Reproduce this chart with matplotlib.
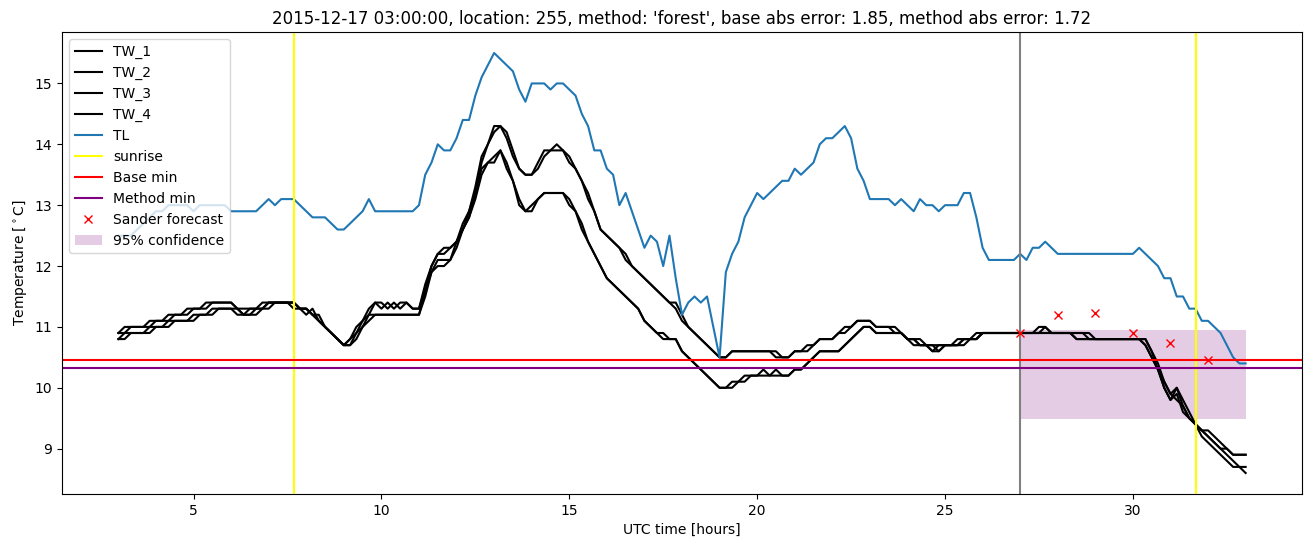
import numpy as np
import matplotlib
matplotlib.use("Agg")
import matplotlib.pyplot as plt

# 10-minute readings from 03:00 to 33:00 UTC (one row per hour)
tl = [
    12.5, 12.5, 12.5, 12.6, 12.7, 12.8,
    12.9, 12.9, 13.0, 13.0, 13.0, 13.0,
    12.9, 13.0, 13.0, 13.0, 13.0, 13.0,
    12.9, 12.9, 12.9, 12.9, 12.9, 13.0,
    13.1, 13.0, 13.1, 13.1, 13.1, 13.0,
    12.9, 12.8, 12.8, 12.8, 12.7, 12.6,
    12.6, 12.7, 12.8, 12.9, 13.1, 12.9,
    12.9, 12.9, 12.9, 12.9, 12.9, 12.9,
    13.0, 13.5, 13.7, 14.0, 13.9, 13.9,
    14.1, 14.4, 14.4, 14.8, 15.1, 15.3,
    15.5, 15.4, 15.3, 15.2, 14.9, 14.7,
    15.0, 15.0, 15.0, 14.9, 15.0, 15.0,
    14.9, 14.8, 14.5, 14.3, 13.9, 13.9,
    13.6, 13.5, 13.0, 13.2, 12.9, 12.6,
    12.3, 12.5, 12.4, 12.0, 12.5, 11.8,
    11.2, 11.4, 11.5, 11.4, 11.5, 11.0,
    10.5, 11.9, 12.2, 12.4, 12.8, 13.0,
    13.2, 13.1, 13.2, 13.3, 13.4, 13.4,
    13.6, 13.5, 13.6, 13.7, 14.0, 14.1,
    14.1, 14.2, 14.3, 14.1, 13.6, 13.4,
    13.1, 13.1, 13.1, 13.1, 13.0, 13.1,
    13.0, 12.9, 13.1, 13.0, 13.0, 12.9,
    13.0, 13.0, 13.0, 13.2, 13.2, 12.8,
    12.3, 12.1, 12.1, 12.1, 12.1, 12.1,
    12.2, 12.1, 12.3, 12.3, 12.4, 12.3,
    12.2, 12.2, 12.2, 12.2, 12.2, 12.2,
    12.2, 12.2, 12.2, 12.2, 12.2, 12.2,
    12.2, 12.3, 12.2, 12.1, 12.0, 11.8,
    11.8, 11.5, 11.5, 11.3, 11.3, 11.1,
    11.1, 11.0, 10.9, 10.7, 10.5, 10.4,
    10.4,
]

tw_1 = [
    10.9, 11.0, 11.0, 11.0, 11.0, 11.1,
    11.1, 11.1, 11.2, 11.2, 11.2, 11.3,
    11.3, 11.3, 11.4, 11.4, 11.4, 11.4,
    11.4, 11.3, 11.2, 11.3, 11.3, 11.4,
    11.4, 11.4, 11.4, 11.4, 11.4, 11.3,
    11.2, 11.3, 11.1, 11.0, 10.9, 10.8,
    10.7, 10.8, 11.0, 11.1, 11.3, 11.4,
    11.3, 11.4, 11.3, 11.4, 11.4, 11.3,
    11.3, 11.7, 12.0, 12.2, 12.2, 12.3,
    12.4, 12.7, 12.9, 13.3, 13.8, 14.0,
    14.3, 14.3, 14.1, 13.8, 13.6, 13.5,
    13.5, 13.7, 13.9, 13.9, 14.0, 13.9,
    13.7, 13.6, 13.4, 13.1, 12.9, 12.6,
    12.5, 12.4, 12.3, 12.2, 12.0, 11.9,
    11.8, 11.7, 11.6, 11.5, 11.4, 11.4,
    11.2, 11.0, 10.9, 10.8, 10.7, 10.6,
    10.5, 10.5, 10.6, 10.6, 10.6, 10.6,
    10.6, 10.6, 10.6, 10.5, 10.5, 10.5,
    10.6, 10.6, 10.7, 10.7, 10.8, 10.8,
    10.8, 10.9, 11.0, 11.0, 11.1, 11.1,
    11.1, 11.0, 11.0, 11.0, 11.0, 10.9,
    10.8, 10.8, 10.7, 10.7, 10.7, 10.7,
    10.7, 10.7, 10.8, 10.8, 10.8, 10.9,
    10.9, 10.9, 10.9, 10.9, 10.9, 10.9,
    10.9, 10.9, 10.9, 10.9, 11.0, 10.9,
    10.9, 10.9, 10.9, 10.8, 10.8, 10.8,
    10.8, 10.8, 10.8, 10.8, 10.8, 10.8,
    10.8, 10.8, 10.7, 10.5, 10.3, 10.0,
    9.8, 10.0, 9.7, 9.5, 9.4, 9.3,
    9.2, 9.1, 9.0, 9.0, 8.9, 8.9,
    8.9,
]

tw_2 = [
    10.9, 10.9, 11.0, 11.0, 11.0, 11.0,
    11.1, 11.1, 11.1, 11.2, 11.2, 11.2,
    11.3, 11.3, 11.3, 11.4, 11.4, 11.4,
    11.4, 11.3, 11.3, 11.3, 11.3, 11.3,
    11.4, 11.4, 11.4, 11.4, 11.4, 11.3,
    11.3, 11.2, 11.1, 11.0, 10.9, 10.8,
    10.7, 10.8, 10.9, 11.1, 11.2, 11.4,
    11.4, 11.3, 11.4, 11.3, 11.4, 11.3,
    11.3, 11.6, 12.0, 12.2, 12.3, 12.3,
    12.4, 12.6, 12.9, 13.2, 13.7, 14.0,
    14.2, 14.3, 14.2, 13.9, 13.6, 13.5,
    13.5, 13.6, 13.8, 13.9, 13.9, 13.9,
    13.8, 13.6, 13.4, 13.2, 12.9, 12.6,
    12.5, 12.4, 12.3, 12.1, 12.0, 11.9,
    11.8, 11.7, 11.6, 11.5, 11.4, 11.3,
    11.1, 11.0, 10.9, 10.8, 10.7, 10.6,
    10.5, 10.5, 10.6, 10.6, 10.6, 10.6,
    10.6, 10.6, 10.6, 10.6, 10.5, 10.5,
    10.6, 10.6, 10.6, 10.7, 10.8, 10.8,
    10.8, 10.9, 10.9, 11.0, 11.1, 11.1,
    11.1, 11.0, 11.0, 11.0, 10.9, 10.9,
    10.8, 10.7, 10.7, 10.7, 10.6, 10.7,
    10.7, 10.7, 10.7, 10.8, 10.8, 10.8,
    10.9, 10.9, 10.9, 10.9, 10.9, 10.9,
    10.9, 10.9, 10.9, 11.0, 11.0, 10.9,
    10.9, 10.9, 10.9, 10.9, 10.9, 10.9,
    10.8, 10.8, 10.8, 10.8, 10.8, 10.8,
    10.8, 10.8, 10.8, 10.6, 10.4, 10.1,
    9.9, 10.0, 9.8, 9.6, 9.4, 9.3,
    9.3, 9.2, 9.1, 9.0, 8.9, 8.9,
    8.9,
]

tw_3 = [
    10.8, 10.9, 10.9, 10.9, 10.9, 11.0,
    11.0, 11.0, 11.1, 11.1, 11.1, 11.1,
    11.2, 11.2, 11.2, 11.3, 11.3, 11.3,
    11.3, 11.2, 11.2, 11.2, 11.2, 11.3,
    11.4, 11.4, 11.4, 11.4, 11.3, 11.3,
    11.3, 11.2, 11.1, 11.0, 10.9, 10.8,
    10.7, 10.7, 10.9, 11.0, 11.2, 11.2,
    11.2, 11.2, 11.2, 11.2, 11.2, 11.2,
    11.2, 11.6, 11.9, 12.1, 12.1, 12.1,
    12.4, 12.6, 12.8, 13.2, 13.6, 13.7,
    13.8, 13.9, 13.6, 13.4, 13.0, 12.9,
    13.0, 13.1, 13.2, 13.2, 13.2, 13.2,
    13.0, 12.9, 12.6, 12.4, 12.2, 12.0,
    11.8, 11.7, 11.6, 11.5, 11.4, 11.3,
    11.1, 11.0, 10.9, 10.8, 10.8, 10.8,
    10.6, 10.5, 10.4, 10.3, 10.2, 10.1,
    10.0, 10.0, 10.1, 10.1, 10.2, 10.2,
    10.2, 10.3, 10.2, 10.2, 10.2, 10.2,
    10.3, 10.3, 10.4, 10.5, 10.6, 10.6,
    10.6, 10.6, 10.7, 10.8, 10.9, 11.0,
    11.0, 10.9, 10.9, 10.9, 10.9, 10.9,
    10.8, 10.8, 10.8, 10.7, 10.6, 10.6,
    10.7, 10.7, 10.7, 10.8, 10.8, 10.8,
    10.9, 10.9, 10.9, 10.9, 10.9, 10.9,
    10.9, 10.9, 10.9, 10.9, 10.9, 10.9,
    10.9, 10.9, 10.9, 10.8, 10.8, 10.8,
    10.8, 10.8, 10.8, 10.8, 10.8, 10.8,
    10.8, 10.8, 10.7, 10.5, 10.3, 10.0,
    9.8, 9.9, 9.6, 9.5, 9.4, 9.3,
    9.2, 9.1, 9.0, 8.9, 8.8, 8.7,
    8.7,
]

tw_4 = [
    10.8, 10.8, 10.9, 10.9, 10.9, 10.9,
    11.0, 11.0, 11.0, 11.1, 11.1, 11.1,
    11.1, 11.2, 11.2, 11.2, 11.3, 11.3,
    11.3, 11.3, 11.2, 11.2, 11.3, 11.3,
    11.3, 11.4, 11.4, 11.4, 11.4, 11.3,
    11.3, 11.2, 11.2, 11.0, 10.9, 10.8,
    10.7, 10.7, 10.8, 11.0, 11.1, 11.2,
    11.2, 11.2, 11.2, 11.2, 11.2, 11.2,
    11.2, 11.5, 11.9, 12.0, 12.0, 12.1,
    12.3, 12.6, 12.8, 13.1, 13.5, 13.7,
    13.7, 13.9, 13.7, 13.4, 13.1, 12.9,
    12.9, 13.1, 13.2, 13.2, 13.2, 13.2,
    13.1, 12.9, 12.7, 12.4, 12.2, 12.0,
    11.8, 11.7, 11.6, 11.5, 11.4, 11.3,
    11.1, 11.0, 10.9, 10.9, 10.8, 10.8,
    10.6, 10.5, 10.4, 10.3, 10.2, 10.1,
    10.0, 10.0, 10.0, 10.1, 10.1, 10.2,
    10.2, 10.2, 10.2, 10.3, 10.2, 10.2,
    10.3, 10.3, 10.4, 10.5, 10.6, 10.6,
    10.6, 10.6, 10.7, 10.8, 10.9, 11.0,
    11.0, 10.9, 10.9, 10.9, 10.9, 10.9,
    10.8, 10.8, 10.7, 10.7, 10.7, 10.6,
    10.7, 10.7, 10.7, 10.7, 10.8, 10.8,
    10.9, 10.9, 10.9, 10.9, 10.9, 10.9,
    10.9, 10.9, 10.9, 10.9, 10.9, 10.9,
    10.9, 10.9, 10.9, 10.9, 10.9, 10.8,
    10.8, 10.8, 10.8, 10.8, 10.8, 10.8,
    10.8, 10.8, 10.8, 10.6, 10.3, 10.1,
    9.9, 9.8, 9.7, 9.5, 9.4, 9.2,
    9.1, 9.0, 8.9, 8.8, 8.7, 8.7,
    8.6,
]

sunrise = [7.68, 31.68]
forecast_start = 27
base_min = 10.46
method_min = 10.33
sander_hours = [27, 28, 29, 30, 31, 32]
sander_temp = [10.9, 11.2, 11.23, 10.9, 10.74, 10.46]
conf_hours = [27, 33]
conf_low = 9.48
conf_high = 10.95

hours = 3 + np.arange(len(tl)) / 6

fig = plt.figure(figsize=(13.11, 5.47), dpi=100)
ax = fig.add_axes([62/1311, 53/547, 1240/1311, 462/547])

for name, tw in zip(["TW_1", "TW_2", "TW_3", "TW_4"], [tw_1, tw_2, tw_3, tw_4]):
    ax.plot(hours, tw, color="black", label=name)
ax.plot(hours, tl, color="tab:blue", label="TL")

for i, s in enumerate(sunrise):
    ax.axvline(s, color="yellow", label="sunrise" if i == 0 else None)
ax.axvline(forecast_start, color="gray")
ax.axhline(base_min, color="red", label="Base min")
ax.axhline(method_min, color="purple", label="Method min")
ax.plot(sander_hours, sander_temp, "rx", label="Sander forecast")
ax.fill_between(conf_hours, conf_low, conf_high, color="purple", alpha=0.2,
                linewidth=0, label="95% confidence")

ax.set_xlim(1.5, 34.5)
ax.set_ylim(8.255, 15.845)
ax.set_xlabel("UTC time [hours]")
ax.set_ylabel(r"Temperature [$^\circ$C]")
ax.set_title("2015-12-17 03:00:00, location: 255, method: 'forest', "
             "base abs error: 1.85, method abs error: 1.72")
ax.legend(loc="upper left")

plt.savefig("out.png", dpi=100)
